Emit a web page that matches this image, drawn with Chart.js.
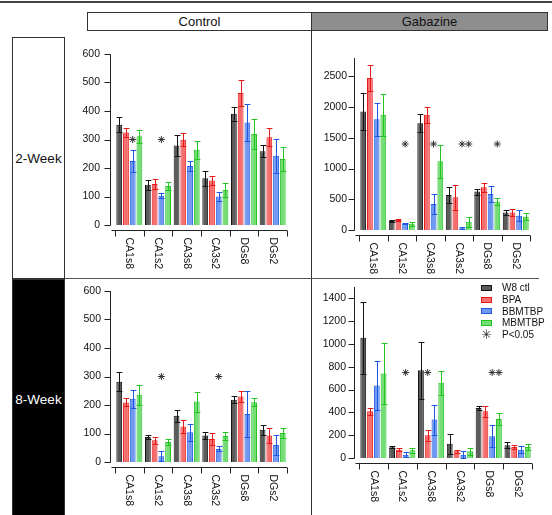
<!DOCTYPE html>
<html>
<head>
<meta charset="utf-8">
<script src="https://cdn.jsdelivr.net/npm/chart.js@4.4.1/dist/chart.umd.min.js"></script>
<style>
body { margin: 0; background: #fff; font-family: "Liberation Sans", Arial, sans-serif; }
#fig { position: relative; width: 552px; height: 515px; overflow: hidden; }
.abs { position: absolute; box-sizing: border-box; }
.hdr { border: 1px solid #333; font-size: 13px; color: #111; display: flex; align-items: center; justify-content: center; }
.side { border: 1px solid #333; font-size: 13.5px; display: flex; align-items: center; justify-content: center; }
canvas { position: absolute; }
#legend { position: absolute; left: 481px; top: 282px; font-size: 10px; color: #111; }
#legend div { height: 11.7px; display: flex; align-items: center; }
#legend span.sw { display: inline-block; width: 11px; height: 6px; margin-right: 10px; box-sizing: border-box; border: 1px solid; }
</style>
</head>
<body>
<div id="fig">
  <div class="abs" style="left:0;top:1px;width:552px;height:2px;background:#444"></div>
  <div class="abs hdr" style="left:87px;top:12px;width:225px;height:19px;background:#fff">Control</div>
  <div class="abs hdr" style="left:311px;top:12px;width:237px;height:19px;background:#8e8e8e">Gabazine</div>
  <div class="abs" style="left:311px;top:30px;width:1px;height:485px;background:#333"></div>
  <div class="abs" style="left:64px;top:278px;width:475px;height:1px;background:#555"></div>
  <div class="abs side" style="left:12px;top:37px;width:53px;height:242px;background:#fff;color:#111">2-Week</div>
  <div class="abs side" style="left:12px;top:279px;width:53px;height:240px;background:#000;color:#fff">8-Week</div>

  <canvas id="c2w" width="244" height="238" style="left:66px;top:40px"></canvas>
  <canvas id="g2w" width="235" height="238" style="left:313px;top:40px"></canvas>
  <canvas id="c8w" width="244" height="235" style="left:66px;top:280px"></canvas>
  <canvas id="g8w" width="235" height="235" style="left:313px;top:280px"></canvas>

  <div id="legend"></div>
</div>
<script>
const categories = ['CA1s8', 'CA1s2', 'CA3s8', 'CA3s2', 'DGs8', 'DGs2'];
const seriesNames = ['W8 ctl', 'BPA', 'BBMTBP', 'MBMTBP'];

// Control, 2-Week
const c2wCtl = [352, 141, 279, 164, 390, 259];
const c2wBpa = [325, 144, 299, 156, 463, 308];
const c2wBb  = [225, 103, 207, 100, 360, 243];
const c2wMb  = [311, 137, 264, 123, 319, 232];
const c2wCtlErr = [27, 17, 37, 26, 24, 22];
const c2wBpaErr = [17, 18, 23, 16, 47, 32];
const c2wBbErr  = [39, 8, 19, 15, 66, 59];
const c2wMbErr  = [23, 13, 31, 24, 53, 41];
const c2wSig = [[0, 2], [1, 2]];   // [category, series] marked P<0.05
const c2wSigLevel = 300;

// Gabazine, 2-Week
const g2wCtl = [1929, 147, 1739, 571, 625, 283];
const g2wBpa = [2473, 163, 1875, 533, 696, 283];
const g2wBb  = [1804, 109, 424, 27, 587, 234];
const g2wMb  = [1875, 100, 1120, 136, 462, 217];
const g2wCtlErr = [300, 16, 147, 125, 49, 43];
const g2wBpaErr = [217, 11, 125, 200, 76, 54];
const g2wBbErr  = [266, 11, 163, 16, 130, 92];
const g2wMbErr  = [337, 30, 266, 81, 60, 55];
const g2wSig = [[1, 2], [2, 2], [3, 2], [3, 3], [4, 3]];
const g2wSigLevel = 1400;

// Control, 8-Week
const c8wCtl = [282, 88, 162, 93, 218, 113];
const c8wBpa = [209, 76, 125, 81, 230, 93];
const c8wBb  = [222, 20, 104, 46, 168, 60];
const c8wMb  = [236, 70, 212, 91, 210, 102];
const c8wCtlErr = [34, 8, 21, 11, 12, 18];
const c8wBpaErr = [14, 12, 23, 21, 20, 26];
const c8wBbErr  = [31, 17, 30, 9, 82, 36];
const c8wMbErr  = [35, 12, 35, 13, 15, 17];
const c8wSig = [[1, 2], [3, 2]];
const c8wSigLevel = 300;

// Gabazine, 8-Week
const g8wCtl = [1054, 94, 770, 126, 439, 111];
const g8wBpa = [410, 73, 199, 59, 410, 97];
const g8wBb  = [636, 29, 337, 29, 190, 73];
const g8wMb  = [741, 67, 659, 59, 343, 97];
const g8wCtlErr = [317, 9, 249, 88, 21, 27];
const g8wBpaErr = [29, 15, 50, 14, 50, 17];
const g8wBbErr  = [213, 21, 132, 30, 97, 30];
const g8wMbErr  = [270, 21, 108, 29, 52, 29];
const g8wSig = [[1, 2], [2, 1], [4, 2], [4, 3]];
const g8wSigLevel = 750;

const fills = ['#5b5b5b', '#f56e6e', '#7098ee', '#76dc76'];
const edges = ['#141414', '#e81818', '#1d58e2', '#22c422'];
const FONT = '"Liberation Sans", Arial, sans-serif';

function drawStar(ctx, x, y, r) {
    ctx.beginPath();
    for (let k = 0; k < 4; k++) {
        const a = k * Math.PI / 4;
        ctx.moveTo(x - r * Math.cos(a), y - r * Math.sin(a));
        ctx.lineTo(x + r * Math.cos(a), y + r * Math.sin(a));
    }
    ctx.stroke();
}

// error bars, Igor-style offset axes, rotated category labels and P<0.05 marks
function panelPlugin(errs, sig, sigLevel) {
    return {
        id: 'panelExtras',
        afterDatasetsDraw(chart) {
            const ctx = chart.ctx, xs = chart.scales.x, ys = chart.scales.y, area = chart.chartArea;
            ctx.save();
            ctx.lineWidth = 1;
            chart.data.datasets.forEach((ds, i) => {
                ctx.strokeStyle = edges[i];
                chart.getDatasetMeta(i).data.forEach((bar, j) => {
                    const m = ds.data[j], e = errs[i][j];
                    const px = Math.round(bar.x) + 0.5;
                    const top = Math.round(ys.getPixelForValue(m + e)) + 0.5;
                    const bot = Math.round(ys.getPixelForValue(Math.max(m - e, 0))) + 0.5;
                    const hw = bar.width * 0.5;
                    ctx.beginPath();
                    ctx.moveTo(px, top); ctx.lineTo(px, bot);
                    ctx.moveTo(px - hw, top); ctx.lineTo(px + hw, top);
                    ctx.moveTo(px - hw, bot); ctx.lineTo(px + hw, bot);
                    ctx.stroke();
                });
            });

            const ax = Math.round(area.left - 5) + 0.5;
            const y0 = ys.getPixelForValue(0);
            const xy = Math.round(y0 + 5) + 0.5;
            ctx.strokeStyle = '#222';
            ctx.beginPath();
            ctx.moveTo(ax, area.top); ctx.lineTo(ax, Math.round(y0) + 0.5);
            ys.ticks.forEach(t => {
                const py = Math.round(ys.getPixelForValue(t.value)) + 0.5;
                ctx.moveTo(ax - 6, py); ctx.lineTo(ax, py);
            });
            ctx.moveTo(ax + 1, xy); ctx.lineTo(area.right, xy);
            for (let i = 0; i <= categories.length; i++) {
                const px = Math.round(xs.getPixelForValue(i - 0.5)) + 0.5;
                ctx.moveTo(px, xy); ctx.lineTo(px, xy + 6);
            }
            ctx.stroke();

            ctx.fillStyle = '#111';
            ctx.font = '10.5px ' + FONT;
            ctx.textAlign = 'left';
            ctx.textBaseline = 'middle';
            categories.forEach((c, i) => {
                ctx.save();
                ctx.translate(xs.getPixelForValue(i), xy + 7);
                ctx.rotate(Math.PI / 2);
                ctx.fillText(c, 0, 0);
                ctx.restore();
            });

            ctx.strokeStyle = '#333';
            sig.forEach(([ci, si]) => {
                const bar = chart.getDatasetMeta(si).data[ci];
                drawStar(ctx, bar.x, ys.getPixelForValue(sigLevel), 3.5);
            });
            ctx.restore();
        }
    };
}

function makePanel(id, series, errs, sig, sigLevel, yMax, step, axisW, labelGap, pad) {
    new Chart(document.getElementById(id), {
        type: 'bar',
        data: {
            labels: categories,
            datasets: series.map((d, i) => ({
                label: seriesNames[i],
                data: d,
                backgroundColor: fills[i],
                borderColor: edges[i],
                borderWidth: 1,
                categoryPercentage: 0.94,
                barPercentage: 0.86
            }))
        },
        options: {
            responsive: false,
            animation: false,
            devicePixelRatio: 1,
            layout: { padding: pad },
            plugins: { legend: { display: false }, tooltip: { enabled: false } },
            scales: {
                x: { display: false, ticks: { display: false } },
                y: {
                    min: 0, max: yMax,
                    border: { display: false },
                    grid: { display: false, drawTicks: true, tickLength: labelGap },
                    ticks: {
                        autoSkip: false, padding: 0, color: '#111',
                        font: { size: 10.5, family: FONT },
                        callback: v => String(v)
                    },
                    // ticks only at whole steps; the axis line still runs up to yMax
                    afterBuildTicks: s => {
                        const t = [];
                        for (let k = 0; k * step <= yMax; k++) t.push({ value: k * step });
                        s.ticks = t;
                    },
                    afterFit: s => { s.width = axisW; }
                }
            }
        },
        plugins: [panelPlugin(errs, sig, sigLevel)]
    });
}

makePanel('c2w', [c2wCtl, c2wBpa, c2wBb, c2wMb], [c2wCtlErr, c2wBpaErr, c2wBbErr, c2wMbErr],
    c2wSig, c2wSigLevel, 600, 100, 49, 15, { left: 0, right: 23, top: 14, bottom: 53 });
makePanel('g2w', [g2wCtl, g2wBpa, g2wBb, g2wMb], [g2wCtlErr, g2wBpaErr, g2wBbErr, g2wMbErr],
    g2wSig, g2wSigLevel, 2800, 500, 46, 12, { left: 0, right: 18, top: 18, bottom: 48 });
makePanel('c8w', [c8wCtl, c8wBpa, c8wBb, c8wMb], [c8wCtlErr, c8wBpaErr, c8wBbErr, c8wMbErr],
    c8wSig, c8wSigLevel, 600, 100, 49, 14, { left: 0, right: 23, top: 11, bottom: 53 });
makePanel('g8w', [g8wCtl, g8wBpa, g8wBb, g8wMb], [g8wCtlErr, g8wBpaErr, g8wBbErr, g8wMbErr],
    g8wSig, g8wSigLevel, 1500, 200, 46, 13, { left: 0, right: 16, top: 7, bottom: 57 });

// legend
const legend = document.getElementById('legend');
seriesNames.forEach((name, i) => {
    const row = document.createElement('div');
    row.innerHTML = '<span class="sw" style="background:' + fills[i] + ';border-color:' + edges[i] + '"></span>' + name;
    legend.appendChild(row);
});
const sigRow = document.createElement('div');
sigRow.innerHTML = '<span style="display:inline-block;width:11px;margin-right:10px;text-align:center;font-size:13px;color:#333">&#10035;</span>P&lt;0.05';
legend.appendChild(sigRow);
</script>
</body>
</html>
